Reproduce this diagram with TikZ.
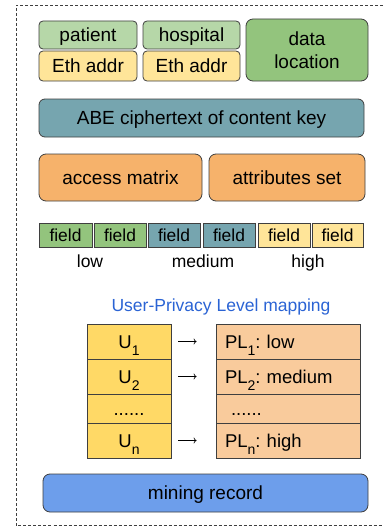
\documentclass[tikz,border=0pt]{standalone}
\usepackage{fontspec}
\setmainfont{Liberation Sans}
\usetikzlibrary{arrows.meta}
\definecolor{lgreen}{HTML}{B6D7A8}
\definecolor{lyellow}{HTML}{FFE599}
\definecolor{mgreen}{HTML}{93C47D}
\definecolor{teal}{HTML}{76A5AF}
\definecolor{orng}{HTML}{F6B26B}
\definecolor{uyellow}{HTML}{FFD966}
\definecolor{lorange}{HTML}{F9CB9C}
\definecolor{mblue}{HTML}{6D9EEB}
\definecolor{tblue}{HTML}{2A63D4}
\definecolor{edge}{HTML}{3F3F3F}
\tikzset{
  box/.style={draw=edge, line width=0.8pt, rounded corners=4pt, inner sep=0pt,
     font=\fontsize{19}{22.7}\selectfont, text height=13.6pt, text depth=0pt},
  bigbox/.style={box, rounded corners=7pt},
  fieldbox/.style={draw=edge, line width=0.8pt, inner sep=0pt, minimum width=52pt,
     minimum height=24pt, font=\fontsize{17.4}{20}\selectfont, text height=12.5pt, text depth=0pt},
  lbl/.style={anchor=base, inner sep=0pt, font=\fontsize{17.5}{20}\selectfont},
  ucell/.style={draw=edge, line width=0.8pt, fill=uyellow, inner sep=0pt, minimum width=84pt,
     font=\fontsize{18.5}{22}\selectfont, text height=13.2pt, text depth=0pt},
  plcell/.style={draw=edge, line width=0.8pt, fill=lorange, inner xsep=9pt, inner ysep=0pt,
     text width=126pt, align=left,
     font=\fontsize{18.5}{22}\selectfont\frenchspacing, text height=13.2pt, text depth=0pt},
  maparrow/.style={line width=0.6pt, -{To[length=3pt,width=6pt]}, shorten <=7pt, shorten >=19pt},
}
\newcommand{\sbs}[1]{\smash{\raisebox{-7.4pt}{\fontsize{14}{14}\selectfont #1}}}
\begin{document}
\begin{tikzpicture}[x=1pt,y=-1pt]
\useasboundingbox (0,0) rectangle (383,527);
% dashed frame
\draw[edge, line width=0.8pt, dash pattern=on 3pt off 2pt] (383,5) -- (16,5) -- (16,525.5) -- (383,525.5);

% row 1
\node[box, fill=lgreen, minimum width=98pt, minimum height=28pt] (pat) at (88,35) {patient};
\node[box, fill=lyellow, minimum width=98pt, minimum height=30pt] (eth1) at (88,66) {Eth addr};
\node[box, fill=lgreen, minimum width=97pt, minimum height=28pt] (hos) at (191.5,35) {hospital};
\node[box, fill=lyellow, minimum width=97pt, minimum height=30pt] (eth2) at (191.5,66) {Eth addr};
\node[bigbox, fill=mgreen, minimum width=122pt, minimum height=62pt, align=center,
      text height=, text depth=] (loc) at (307,50) {data\\location};

% ABE
\node[box, rounded corners=6pt, fill=teal, minimum width=325pt, minimum height=38pt] (abe) at (201.5,118) {ABE ciphertext of content key};

% access / attributes
\node[bigbox, fill=orng, minimum width=163pt, minimum height=47pt] (acc) at (120.5,177.5) {access matrix};
\node[bigbox, fill=orng, minimum width=156pt, minimum height=47pt] (att) at (287,177.5) {attributes set};

% fields
\node[fieldbox, fill=mgreen, minimum width=53pt] (f1) at (65.5,235) {field};
\node[fieldbox, fill=mgreen] (f2) at (120,235) {field};
\node[fieldbox, fill=teal] (f3) at (174,235) {field};
\node[fieldbox, fill=teal] (f4) at (229,235) {field};
\node[fieldbox, fill=lyellow] (f5) at (284,235) {field};
\node[fieldbox, fill=lyellow, minimum width=51pt] (f6) at (337.5,235) {field};
\node[lbl] (low) at (90,267.5) {low};
\node[lbl] (med) at (203,267.5) {medium};
\node[lbl] (high) at (308,267.5) {high};

% mapping
\node[lbl, text=tblue] (title) at (221,311.5) {User-Privacy Level mapping};
\node[ucell, minimum height=35pt] (u1) at (129,341.5) {U\sbs{1}};
\node[ucell, minimum height=35pt] (u2) at (129,376.5) {U\sbs{2}};
\node[ucell, minimum height=29pt] (ud) at (129,408.5) {......};
\node[ucell, minimum height=35pt] (un) at (129,440.5) {U\sbs{n}};
\node[plcell, minimum height=35pt] (p1) at (288,341.5) {PL\sbs{1}: low};
\node[plcell, minimum height=35pt] (p2) at (288,376.5) {PL\sbs{2}: medium};
\node[plcell, minimum height=29pt] (pd) at (288,408.5) {\hspace*{6pt}......};
\node[plcell, minimum height=35pt] (pn) at (288,440.5) {PL\sbs{n}: high};
\draw[maparrow] (u1) -- (p1);
\draw[maparrow] (u2) -- (p2);
\draw[maparrow] (un) -- (pn);

% mining record
\node[box, rounded corners=7pt, fill=mblue, minimum width=325pt, minimum height=38pt] (mine) at (205.5,493) {mining record};
\end{tikzpicture}
\end{document}
